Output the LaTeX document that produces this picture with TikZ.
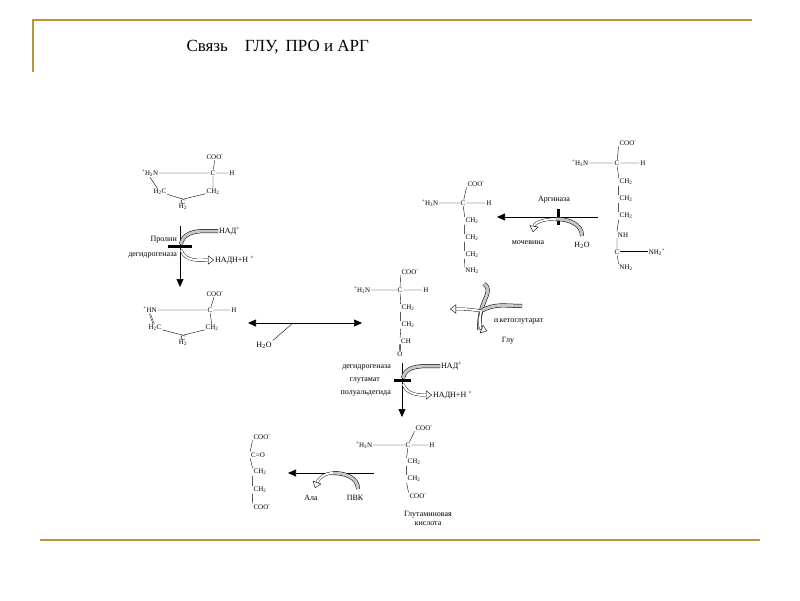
\documentclass[tikz,border=0pt]{standalone}
\usepackage{fontspec}
\setmainfont{Liberation Serif}
\usetikzlibrary{arrows.meta}
\newcommand{\ls}[1]{\textsubscript{#1}}
\newcommand{\hs}[1]{\textsuperscript{#1}}
\definecolor{frame}{RGB}{184,150,60}
\tikzset{
  atm/.style={font=\fontsize{7}{8}\selectfont, inner sep=0.8pt},
  lbl/.style={font=\fontsize{8}{9}\selectfont, inner sep=1pt},
  react/.style={-{Triangle[length=8pt,width=7pt]}, line width=0.7pt},
  block/.style={line width=3pt},
  cofin/.style={draw=black, double=gray!45, double distance=3pt, line width=0.5pt},
  cofout/.style={draw=black, double=white, double distance=2pt, line width=0.4pt,
    -{Triangle[open,length=6pt,width=9pt]}}
}
\begin{document}
\begin{tikzpicture}[x=1pt,y=-1pt]
  \useasboundingbox (0,0) rectangle (800,600);

  % frame and title
  \draw[frame, line width=1.5pt] (33,72) -- (33,20) -- (752,20);
  \draw[frame, line width=1.5pt] (40,540) -- (760,540);
  \node[font=\fontsize{17}{20}\selectfont, anchor=west] (title) at (183,47) {Связь\quad ГЛУ,\, ПРО и АРГ};

  % proline
  \node[atm] (p1coo) at (215,157) {COO\hs{-}};
  \node[atm] (p1n) at (150,173) {\hs{+}H\ls{2}N};
  \node[atm] (p1c) at (213,173) {C};
  \node[atm] (p1h) at (232,173) {H};
  \node[atm] (p1a) at (160,192) {H\ls{2}C};
  \node[atm] (p1b) at (213,192) {CH\ls{2}};
  \node[atm, align=center] (p1g) at (183,205) {C\\[-4pt]H\ls{2}};
  \draw (p1coo) -- (p1c) (p1n) -- (p1c) -- (p1h) (p1c) -- (p1b)
        (p1n.south) -- (p1a) (p1a) -- (p1g.north) -- (p1b);

  % proline dehydrogenase
  \coordinate (r1a) at (180,226);
  \coordinate (r1b) at (180,287);
  \draw[react] (r1a) -- (r1b);
  \draw[block] (168,246) -- (192,246);
  \node[lbl, anchor=east] (enz1a) at (178,240) {Пролин};
  \node[lbl, anchor=east] (enz1b) at (178,255) {дегидрогеназа};
  \node[lbl, anchor=west] (nad1) at (218,231) {НАД\hs{+}};
  \node[lbl, anchor=west] (nadh1) at (214,260) {НАДН+Н \hs{+}};
  \draw[cofin] (nad1.west) -- (205,231) to[out=180,in=80] (181,244);
  \draw[cofout] (181,250) to[out=-70,in=180] (nadh1.west);

  % pyrroline-5-carboxylate
  \node[atm] (p2coo) at (215,294) {COO\hs{-}};
  \node[atm] (p2n) at (150,310) {\hs{+}HN};
  \node[atm] (p2c) at (210,310) {C};
  \node[atm] (p2h) at (234,310) {H};
  \node[atm] (p2a) at (155,328) {H\ls{2}C};
  \node[atm] (p2b) at (212,328) {CH\ls{2}};
  \node[atm, align=center] (p2g) at (183,341) {C\\[-4pt]H\ls{2}};
  \draw (p2coo) -- (p2c) (p2n) -- (p2c) -- (p2h) (p2c) -- (p2b)
        (p2a) -- (p2g.north) -- (p2b);
  \draw[double] (p2n.south) -- (p2a);

  % hydrolysis
  \coordinate (r2a) at (248,323);
  \coordinate (r2b) at (362,323);
  \draw[{Triangle[length=8pt,width=7pt]}-{Triangle[length=8pt,width=7pt]}, line width=0.7pt] (r2a) -- (r2b);
  \node[lbl] (w1) at (264,345) {H\ls{2}O};
  \draw (w1.north east) -- (293,323);

  % glutamate semialdehyde
  \node[atm] (s1coo) at (410,272) {COO\hs{-}};
  \node[atm] (s1n) at (362,290) {\hs{+}H\ls{3}N};
  \node[atm] (s1c) at (400,290) {C};
  \node[atm] (s1h) at (426,290) {H};
  \node[atm] (s1a) at (408,308) {CH\ls{2}};
  \node[atm] (s1b) at (408,325) {CH\ls{2}};
  \node[atm] (s1d) at (406,341) {CH};
  \node[atm] (s1o) at (400,354) {O};
  \draw (s1coo.south west) -- (s1c) (s1n) -- (s1c) -- (s1h) (s1c) -- (s1a.north west)
        (s1a.south west) -- (s1b.north west) (s1b.south west) -- (s1d.north west);
  \draw[double] (s1d.south west) -- (s1o);

  % ornithine
  \node[atm] (o1coo) at (476,184) {COO\hs{-}};
  \node[atm] (o1n) at (430,203) {\hs{+}H\ls{3}N};
  \node[atm] (o1c) at (463,203) {C};
  \node[atm] (o1h) at (489,203) {H};
  \node[atm] (o1a) at (472,221) {CH\ls{2}};
  \node[atm] (o1b) at (472,238) {CH\ls{2}};
  \node[atm] (o1d) at (472,255) {CH\ls{2}};
  \node[atm] (o1e) at (472,271) {NH\ls{2}};
  \draw (o1coo.south west) -- (o1c) (o1n) -- (o1c) -- (o1h) (o1c) -- (o1a.north west)
        (o1a.south west) -- (o1b.north west) (o1b.south west) -- (o1d.north west)
        (o1d.south west) -- (o1e.north west);

  % arginine
  \node[atm] (a1coo) at (628,143) {COO\hs{-}};
  \node[atm] (a1n) at (580,163) {\hs{+}H\ls{3}N};
  \node[atm] (a1c) at (617,163) {C};
  \node[atm] (a1h) at (643,163) {H};
  \node[atm] (a1a) at (626,182) {CH\ls{2}};
  \node[atm] (a1b) at (626,199) {CH\ls{2}};
  \node[atm] (a1d) at (626,216) {CH\ls{2}};
  \node[atm] (a1e) at (623,235) {NH};
  \node[atm] (a1f) at (617,252) {C};
  \node[atm] (a1g) at (657,252) {NH\ls{2}\hs{+}};
  \node[atm] (a1i) at (626,268) {NH\ls{2}};
  \draw (a1coo.south west) -- (a1c) (a1n) -- (a1c) -- (a1h) (a1c) -- (a1a.north west)
        (a1a.south west) -- (a1b.north west) (a1b.south west) -- (a1d.north west)
        (a1d.south west) -- (a1e.north west) (a1e.south west) -- (a1f)
        (a1f) -- (a1i.north west);
  \draw[double] (a1f) -- (a1g);

  % arginase
  \coordinate (r3a) at (598,217);
  \coordinate (r3b) at (497,217);
  \draw[react] (r3a) -- (r3b);
  \draw[block] (558,209) -- (558,225);
  \node[lbl] (enz3) at (554,200) {Аргиназа};
  \node[lbl] (urea) at (528,243) {мочевина};
  \node[lbl] (w2) at (582,245) {H\ls{2}O};
  \draw[cofin] (582,236) to[out=90,in=0] (556,219);
  \draw[cofout] (556,219) to[out=180,in=80] (533,232);

  % transamination
  \coordinate (tx) at (481,311);
  \node[lbl, anchor=west] (akg) at (493,321) {α\,кетоглутарат};
  \node[lbl] (glu1) at (508,341) {Глу};
  \draw[cofin] (484,284) to[out=-30,in=80] (tx) to[out=-100,in=90] (479,330);
  \draw[cofin] (tx) to[out=30,in=180] (522,306);
  \draw[cofout] (tx) to[out=170,in=0] (450,309);
  \draw[cofout] (tx) to[out=-100,in=160] (487,331);

  % glutamate semialdehyde dehydrogenase
  \coordinate (r4a) at (402,363);
  \coordinate (r4b) at (402,417);
  \draw[react] (r4a) -- (r4b);
  \draw[block] (394,380) -- (411,380);
  \node[lbl, anchor=east] (enz4a) at (392,367) {дегидрогеназа};
  \node[lbl, anchor=east] (enz4b) at (381,380) {глутамат};
  \node[lbl, anchor=east] (enz4c) at (392,393) {полуальдегида};
  \node[lbl, anchor=west] (nad2) at (440,366) {НАД\hs{+}};
  \node[lbl, anchor=west] (nadh2) at (432,395) {НАДН+Н \hs{+}};
  \draw[cofin] (nad2.west) -- (428,366) to[out=180,in=80] (403,378);
  \draw[cofout] (403,384) to[out=-70,in=180] (nadh2.west);

  % glutamate
  \node[atm] (g1coo) at (424,428) {COO\hs{-}};
  \node[atm] (g1n) at (364,445) {\hs{+}H\ls{3}N};
  \node[atm] (g1c) at (408,445) {C};
  \node[atm] (g1h) at (432,445) {H};
  \node[atm] (g1a) at (414,462) {CH\ls{2}};
  \node[atm] (g1b) at (414,479) {CH\ls{2}};
  \node[atm] (g1d) at (418,496) {COO\hs{-}};
  \draw (g1coo.south west) -- (g1c) (g1n) -- (g1c) -- (g1h) (g1c) -- (g1a.north west)
        (g1a.south west) -- (g1b.north west) (g1b.south west) -- (g1d.north west);
  \node[lbl, align=center] (glu2) at (428,518) {Глутаминовая\\кислота};

  % alpha-ketoglutarate
  \node[atm] (k1a) at (262,437) {COO\hs{-}};
  \node[atm] (k1b) at (258,455) {C=O};
  \node[atm] (k1c) at (260,472) {CH\ls{2}};
  \node[atm] (k1d) at (260,490) {CH\ls{2}};
  \node[atm] (k1e) at (262,507) {COO\hs{-}};
  \draw (k1a.south west) -- (k1b.north west) (k1b.south west) -- (k1c.north west)
        (k1c.south west) -- (k1d.north west) (k1d.south west) -- (k1e.north west);

  % transamination with pyruvate
  \coordinate (r5a) at (374,473);
  \coordinate (r5b) at (288,473);
  \draw[react] (r5a) -- (r5b);
  \node[lbl] (ala) at (311,498) {Ала};
  \node[lbl] (pvk) at (355,498) {ПВК};
  \draw[cofin] (358,489) to[out=90,in=0] (333,473);
  \draw[cofout] (333,473) to[out=180,in=70] (315,488);
\end{tikzpicture}
\end{document}
